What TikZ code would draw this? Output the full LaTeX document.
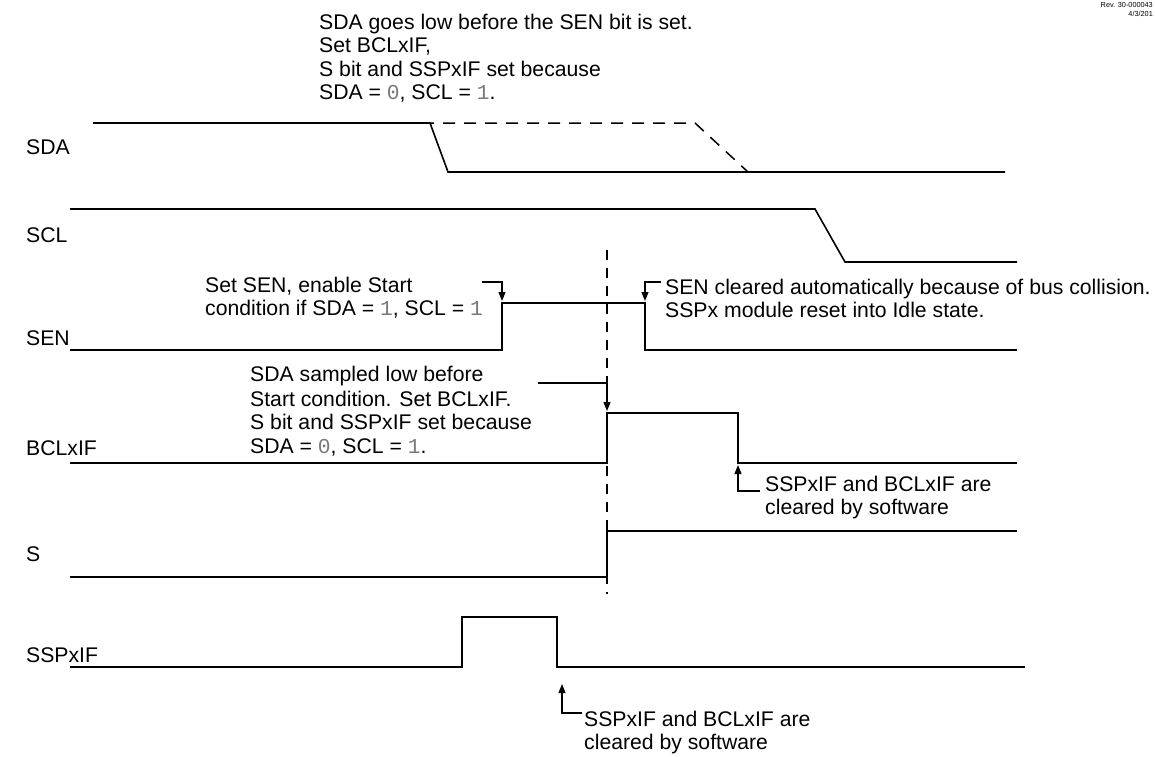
\documentclass[tikz,border=0pt]{standalone}
\usepackage{fontspec}
\setmainfont{Liberation Sans}
\newfontfamily\monof{Liberation Mono}
\usetikzlibrary{arrows.meta}
\definecolor{digitgray}{RGB}{120,120,120}
\newcommand{\dg}[1]{{\monof\color{digitgray}#1}}
\begin{document}
\begin{tikzpicture}[x=1pt,y=-1pt,
  sig/.style={line width=1.6pt, line join=miter},
  sigdash/.style={line width=1.5pt, dash pattern=on 12pt off 9pt},
  guide/.style={line width=1.3pt, dash pattern=on 10pt off 8pt},
  callout/.style={line width=1.1pt, -{Triangle[length=9pt,width=7pt]}},
  lbl/.style={anchor=base west, inner sep=0pt, font=\fontsize{21.2}{24}\selectfont},
  note/.style={anchor=north west, inner sep=0pt, align=left, font=\fontsize{21.2}{23.4}\selectfont},
  rev/.style={anchor=north east, inner sep=0pt, align=right, font=\fontsize{7.3}{9}\selectfont},
]
\useasboundingbox (0,0) rectangle (1155,756);

% revision tag
\node[rev] (revtag) at (1153,2) {Rev. 30-000043\\4/3/201};

% signal labels
\node[lbl] (lsda) at (26,154) {SDA};
\node[lbl] (lscl) at (26,242) {SCL};
\node[lbl] (lsen) at (26,345) {SEN};
\node[lbl] (lbcl) at (26,455) {BCLxIF};
\node[lbl] (ls)   at (26,561) {S};
\node[lbl] (lssp) at (26,662) {SSPxIF};

% SDA
\draw[sig] (93,123) -- (430,123) -- (448,172) -- (1005,172);
\draw[sigdash] (338,123) -- (695,123) -- (748,172);

% SCL
\draw[sig] (70,209) -- (815,209) -- (845,262) -- (1017,262);

% SEN
\coordinate (senr) at (502,303);
\coordinate (senf) at (645,303);
\draw[sig] (70,350) -- (502,350) -- (senr) -- (senf) -- (645,350) -- (1017,350);

% BCLxIF
\coordinate (bclr) at (607,413);
\coordinate (bclf) at (738,463);
\draw[sig] (70,463) -- (607,463) -- (bclr) -- (738,413) -- (bclf) -- (1017,463);

% S
\draw[sig] (70,577) -- (607,577) -- (607,531) -- (1017,531);

% SSPxIF
\coordinate (sspf) at (557,667);
\draw[sig] (70,667) -- (462,667) -- (462,617) -- (557,617) -- (sspf) -- (1025,667);

% vertical guide
\coordinate (gtop) at (607,250);
\coordinate (gbot) at (607,594);
\draw[guide] (gtop) -- (gbot);

% notes
\node[note] (ntop) at (319,14) {SDA goes low before the SEN bit is set.\\Set BCLxIF,\\S bit and SSPxIF set because\\SDA = \dg{0}, SCL = \dg{1}.};
\node[note] (nsen) at (205,277) {Set SEN, enable Start\\condition if SDA = \dg{1}, SCL = \dg{1}};
\node[note] (nsenc) at (665,279) {SEN cleared automatically because of bus collision.\\SSPx module reset into Idle state.};
\node[note] (nsamp) at (250,366) {SDA sampled low before};
\node[note] (nbcl) at (250,391) {Start condition. Set BCLxIF.\\S bit and SSPxIF set because\\SDA = \dg{0}, SCL = \dg{1}.};
\node[note] (nbclc) at (765,476) {SSPxIF and BCLxIF are\\cleared by software};
\node[note] (nsspc) at (584,711) {SSPxIF and BCLxIF are\\cleared by software};

% callout end points
\coordinate (t1) at (502,301);
\coordinate (t2) at (645,301);
\coordinate (t3) at (607,411);
\coordinate (t4) at (738,465);
\coordinate (t5) at (562,684);

% callouts
\coordinate (c1) at (482,282);
\draw[callout] (c1) -| (t1);
\coordinate (c2) at (661,282);
\draw[callout] (c2) -| (t2);
\coordinate (c3) at (538,383);
\draw[callout] (c3) -| (t3);
\coordinate (c4) at (760,491);
\draw[callout] (c4) -| (t4);
\coordinate (c5) at (582,713);
\draw[callout] (c5) -| (t5);
\end{tikzpicture}
\end{document}
